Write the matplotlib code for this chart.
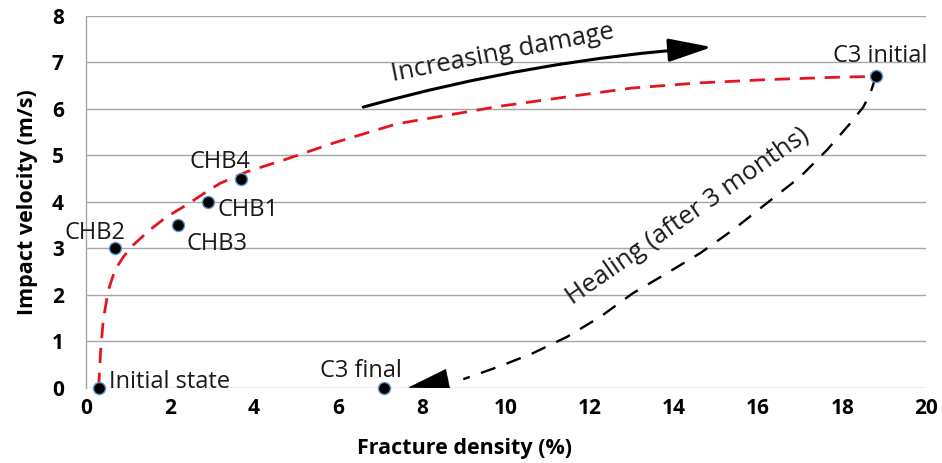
import matplotlib.pyplot as plt
from matplotlib.patches import FancyArrowPatch

# measured samples
sample_names = ["Initial state", "CHB2", "CHB3", "CHB1", "CHB4", "C3 initial", "C3 final"]
fracture_density = [0.3, 0.7, 2.2, 2.9, 3.7, 18.8, 7.1]
impact_velocity = [0.0, 3.0, 3.5, 4.0, 4.5, 6.7, 0.0]

# hand-drawn damage trend (red dashed)
damage_x = [0.30, 0.31, 0.35, 0.41, 0.53, 0.69, 0.89, 1.13, 1.52, 1.92, 2.40, 2.87,
            3.19, 3.83, 4.70, 5.90, 7.40, 9.86, 11.45, 13.0, 14.6, 16.2, 17.8, 18.8]
damage_y = [0.00, 0.17, 0.82, 1.46, 2.10, 2.54, 2.82, 3.08, 3.40, 3.68, 3.94, 4.22,
            4.40, 4.65, 4.90, 5.27, 5.68, 6.06, 6.26, 6.45, 6.56, 6.63, 6.68, 6.70]

# healing path (black dashed)
healing_x = [18.8, 18.67, 18.5, 18.19, 17.64, 17.0, 16.2, 15.4, 14.62, 13.83, 13.02,
             12.24, 11.45, 10.64, 9.86, 8.98]
healing_y = [6.70, 6.34, 6.04, 5.69, 5.12, 4.54, 3.97, 3.40, 2.90, 2.47, 2.04,
             1.53, 1.10, 0.75, 0.47, 0.19]

x_ticks = list(range(0, 21, 2))
y_ticks = list(range(0, 9))

# label placement (data units) and alignment
label_pos = {
    "Initial state": (0.55, 0.0, "left"),
    "CHB2": (-0.5, 3.2, "left"),
    "CHB3": (2.4, 2.97, "left"),
    "CHB1": (3.14, 3.7, "left"),
    "CHB4": (3.2, 4.74, "center"),
    "C3 initial": (18.9, 7.0, "center"),
    "C3 final": (6.55, 0.24, "center"),
}

plt.rcParams["font.family"] = ["Open Sans", "DejaVu Sans"]

fig = plt.figure(figsize=(9.42, 4.63), dpi=100)
ax = fig.add_axes([0.0913, 0.162, 0.892, 0.8036])

ax.set_xlim(0, 20)
ax.set_ylim(0, 8)
ax.set_xticks(x_ticks)
ax.set_yticks(y_ticks)
ax.yaxis.grid(True, color="#a6a6a6", linewidth=1.0)
ax.set_axisbelow(True)
for side in ["top", "right", "bottom"]:
    ax.spines[side].set_visible(False)
ax.spines["left"].set_color("#a6a6a6")
ax.spines["left"].set_linewidth(1.0)
ax.tick_params(length=0, labelsize=15)
ax.tick_params(axis="x", pad=7)
ax.tick_params(axis="y", pad=16)
for lbl in ax.get_xticklabels() + ax.get_yticklabels():
    lbl.set_fontweight("bold")

ax.set_xlabel("Fracture density (%)", fontsize=15.5, fontweight="bold", labelpad=12)
ax.set_ylabel("Impact velocity (m/s)", fontsize=15.5, fontweight="bold", labelpad=10)
ax.xaxis.set_label_coords(0.451, -0.135)

ax.plot(damage_x, damage_y, color="#e3161f", linewidth=2.0, dashes=(5.5, 3.5), zorder=3)
ax.plot(healing_x, healing_y, color="black", linewidth=1.7, dashes=(6.5, 5), zorder=3)

# arrowhead of the healing path
ax.add_patch(FancyArrowPatch((8.62, 0.19), (7.67, 0.01),
                             arrowstyle="-|>,head_length=2.8,head_width=0.72",
                             mutation_scale=10, color="black", linewidth=0.5,
                             shrinkA=0, shrinkB=0, zorder=4))

# increasing damage arrow
ax.add_patch(FancyArrowPatch((6.6, 6.04), (14.9, 7.33),
                             connectionstyle="arc3,rad=-0.05",
                             arrowstyle="-|>,head_length=2.7,head_width=0.72",
                             mutation_scale=10, color="black", linewidth=2.2,
                             shrinkA=0, shrinkB=0, zorder=4))

ax.scatter(fracture_density, impact_velocity, s=75, color="black",
           edgecolor="#5b9bd5", linewidth=1.0, zorder=5, clip_on=False)

for name in sample_names:
    tx, ty, ha = label_pos[name]
    ax.text(tx, ty, name, fontsize=17, ha=ha, va="baseline", color="#1a1a1a", zorder=6)

ax.text(7.3, 6.6, "Increasing damage", fontsize=18.5, rotation=11,
        rotation_mode="anchor", ha="left", va="baseline", color="#1a1a1a")
ax.text(11.57, 1.78, "Healing (after 3 months)", fontsize=18.5, rotation=35,
        rotation_mode="anchor", ha="left", va="baseline", color="#1a1a1a")

fig.savefig("out.png", dpi=100)
